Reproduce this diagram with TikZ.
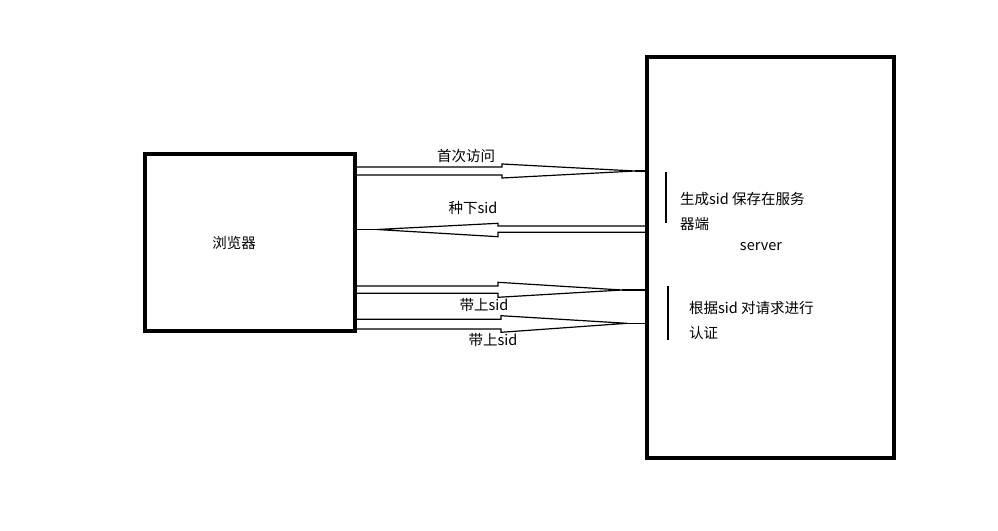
\documentclass[tikz,border=0pt]{standalone}
\usepackage{fontspec}
\setmainfont{Noto Sans CJK SC}
\usetikzlibrary{positioning, calc}

\begin{document}
\begin{tikzpicture}[
    x=1pt, y=-1pt,
    box/.style={draw, rectangle, line width=4pt, inner sep=0pt},
    pipe/.style={draw, line width=1.2pt, line join=miter},
    txt/.style={font=\fontsize{14.5}{25}\selectfont, inner sep=0pt},
    note/.style={txt, align=left, anchor=west}
]
    \useasboundingbox (0,0) rectangle (998,530);

    \node[box, minimum width=210pt, minimum height=177pt] (browser) at (250,242.5) {};
    \node[box, minimum width=247pt, minimum height=401pt] (server) at (770.5,257.5) {};
    \node[txt] (browsertext) at (234,243) {浏览器};
    \node[txt] (servertext) at (761,247) {server};

    % first visit
    \coordinate (tip1) at (635,171);
    \draw[pipe] (browser.east |- 0,167) -- (502,167) -- (502,164) -- (tip1)
        -- (502,178) -- (502,175) -- (browser.east |- 0,175);
    \draw[pipe] (tip1) -- (server.west |- tip1);
    \node[txt] (visit) at (466,156) {首次访问};

    % set sid
    \coordinate (tip2) at (377,229.5);
    \draw[pipe] (browser.east |- tip2) -- (tip2);
    \draw[pipe] (server.west |- 0,226) -- (498,226) -- (498,223.3) -- (tip2)
        -- (498,236.7) -- (498,232.3) -- (server.west |- 0,232.3);
    \node[txt] (setsid) at (473,208) {种下sid};

    % request with sid
    \coordinate (tip3) at (622,290);
    \draw[pipe] (browser.east |- 0,286) -- (498,286) -- (498,282.3) -- (tip3)
        -- (498,297.3) -- (498,293.3) -- (browser.east |- 0,293.3);
    \draw[pipe] (tip3) -- (server.west |- tip3);
    \node[txt] (carry1) at (484,305) {带上sid};

    \coordinate (tip4) at (627,323.3);
    \draw[pipe] (browser.east |- 0,319.3) -- (501,319.3) -- (501,315.7) -- (tip4)
        -- (501,332.3) -- (501,329) -- (browser.east |- 0,329);
    \draw[pipe] (tip4) -- (server.west |- tip4);
    \node[txt] (carry2) at (493,340) {带上sid};

    % notes inside server
    \draw[pipe] (666,172) -- (666,223);
    \node[note] (store) at (680,211.5) {生成sid 保存在服务\\器端};
    \draw[pipe] (668,286) -- (668,340);
    \node[note] (auth) at (689,320) {根据sid 对请求进行\\认证};
\end{tikzpicture}
\end{document}
